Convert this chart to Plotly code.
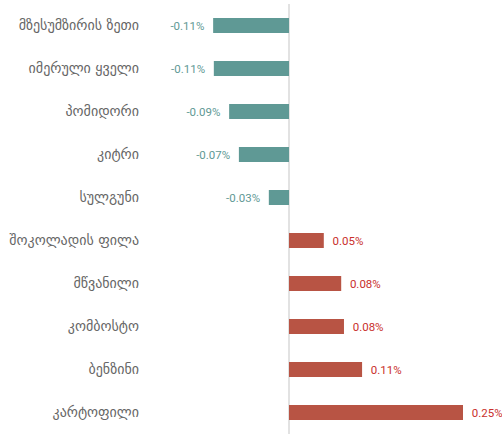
import plotly.graph_objects as go

# ── data ─────────────────────────────────────────────
items = [
    "მზესუმზირის ზეთი",
    "იმერული ყველი",
    "პომიდორი",
    "კიტრი",
    "სულგუნი",
    "შოკოლადის ფილა",
    "მწვანილი",
    "კომბოსტო",
    "ბენზინი",
    "კარტოფილი",
]
changes = [-0.109, -0.108, -0.086, -0.072, -0.029, 0.050, 0.075, 0.079, 0.105, 0.250]
change_labels = ["-0.11%", "-0.11%", "-0.09%", "-0.07%", "-0.03%",
                 "0.05%", "0.08%", "0.08%", "0.11%", "0.25%"]

_NEG_BAR = "#5f9995"
_POS_BAR = "#b85444"
_NEG_TXT = "#5f9995"
_POS_TXT = "#c9302c"
_PAD = "\u00a0\u00a0"   # keeps the value labels a little off the bar ends

bar_colors = [_NEG_BAR if v < 0 else _POS_BAR for v in changes]
text_colors = [_NEG_TXT if v < 0 else _POS_TXT for v in changes]
templates = ["%{text}" + _PAD if v < 0 else _PAD + "%{text}" for v in changes]

fig = go.Figure(go.Bar(
    x=changes,
    y=items,
    orientation="h",
    marker=dict(color=bar_colors, line=dict(width=0)),
    width=0.35,
    text=change_labels,
    texttemplate=templates,
    textposition="outside",
    textfont=dict(size=11.5, color=text_colors, family="Roboto, DejaVu Sans"),
    cliponaxis=False,
    hoverinfo="skip",
))

# 0 sits at ~289px, 0.25 at ~463px -> ~696 px per unit
px_per_unit = 696.0
left_px, right_px = 150, 492
zero_px = 289

fig.update_layout(
    width=502,
    height=434,
    margin=dict(l=left_px, r=502 - right_px, t=4, b=0),
    plot_bgcolor="white",
    paper_bgcolor="white",
    showlegend=False,
    font=dict(family="Roboto, DejaVu Sans", color="#555555"),
    xaxis=dict(
        range=[-(zero_px - left_px) / px_per_unit, (right_px - zero_px) / px_per_unit],
        showgrid=False,
        showticklabels=False,
        zeroline=True,
        zerolinecolor="#e2e2e2",
        zerolinewidth=2,
        fixedrange=True,
    ),
    yaxis=dict(
        autorange="reversed",
        showgrid=False,
        ticks="",
        ticklabelstandoff=10,
        tickfont=dict(size=14, color="#666666", family="DejaVu Sans"),
        fixedrange=True,
    ),
)

fig.write_html(
    "out.html",
    config={"displayModeBar": False},
    post_script="document.body.style.margin='0';",
)
